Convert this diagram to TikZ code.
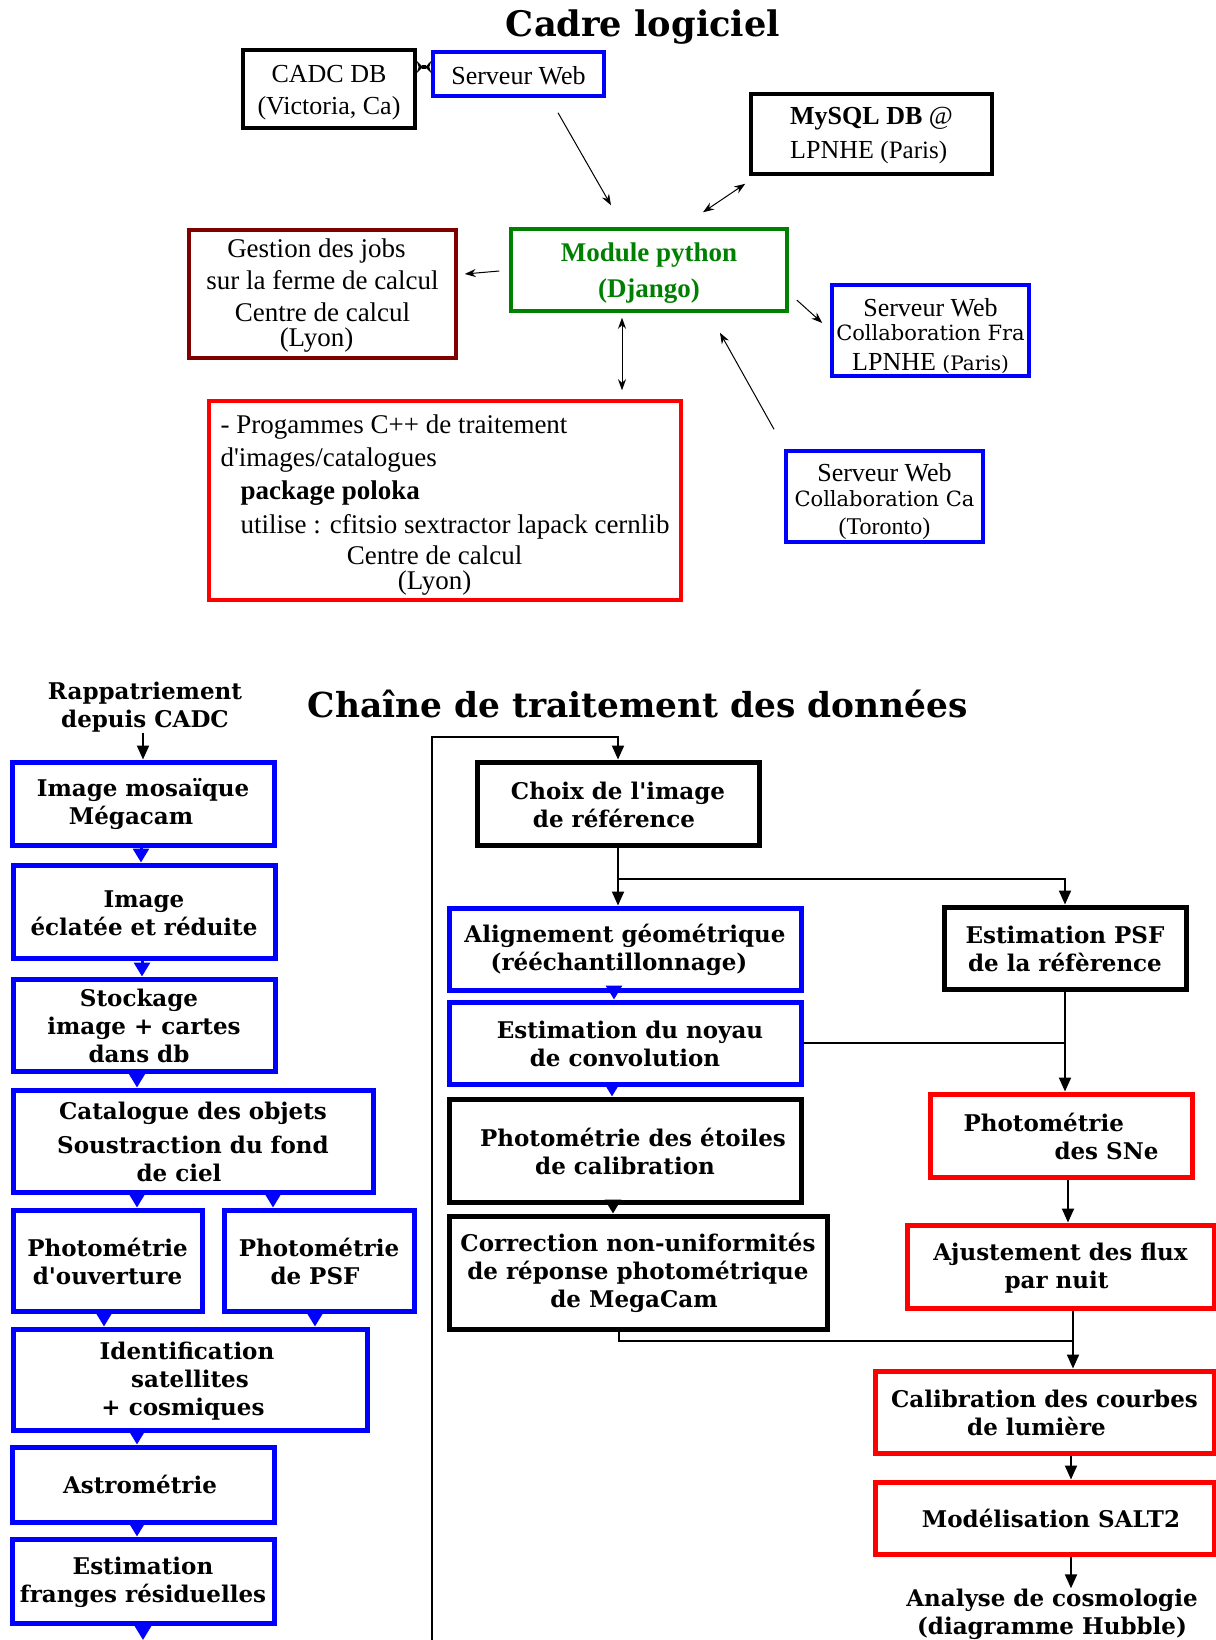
\documentclass[tikz,border=0pt]{standalone}
\usepackage{fontspec}
\setmainfont{Liberation Serif}[Ligatures=TeXOff]
\newfontfamily\dvs{DejaVu Serif}[Ligatures=TeXOff]
\usetikzlibrary{arrows.meta,calc}
\definecolor{mygreen}{RGB}{0,128,0}
\definecolor{mydarkred}{RGB}{128,0,0}
\tikzset{
  tb/.style={draw, line width=1.75pt, inner sep=0pt, align=center, font=\fontsize{13}{16}\selectfont},
  bb/.style={draw=blue, line width=2.5pt, inner sep=0pt, align=center, font=\dvs\bfseries\fontsize{11.5}{14}\selectfont},
  kb/.style={bb, draw=black},
  rb/.style={bb, draw=red},
  btxt/.style={inner sep=0pt, align=center, font=\dvs\bfseries\fontsize{11.5}{14}\selectfont},
  thinarr/.style={line width=0.5pt, -{Stealth[length=5.5pt,width=4pt]}},
  thinboth/.style={line width=0.5pt, {Stealth[length=5.5pt,width=4pt]}-{Stealth[length=5.5pt,width=4pt]}},
  flow/.style={line width=1pt, -{Triangle[length=7pt,width=6pt]}},
  flowline/.style={line width=1pt},
  btri/.style={draw=blue, line width=1.5pt, -{Triangle[length=7pt,width=8pt]}},
  ktri/.style={btri, draw=black},
}
\begin{document}
\begin{tikzpicture}[x=0.5pt,y=-0.5pt]
\useasboundingbox[fill=white] (0,0) rectangle (1216,1640);

% ---------------- Cadre logiciel ----------------
\node[inner sep=0pt, font=\dvs\bfseries\fontsize{17.6}{20}\selectfont] (t1) at (643,27) {Cadre logiciel};

\node[tb, minimum width=86pt, minimum height=39pt] (cadc) at (329,89) {\rule{0pt}{12.5pt}CADC DB\\(Victoria, Ca)};
\node[tb, draw=blue, minimum width=85.5pt, minimum height=22pt] (sw1) at (518.5,74) {\rule{0pt}{10.5pt}Serveur Web};
\node[tb, align=left, minimum width=120.5pt, minimum height=40pt] (mysql) at (871.5,134)
  {\rule{0pt}{10pt}\textbf{MySQL DB} @\\[1pt]LPNHE {\fontsize{12.5}{16}\selectfont(Paris)}};
\node[tb, draw=mygreen, text=mygreen, minimum width=138pt, minimum height=41pt,
      font=\bfseries\fontsize{13.5}{18}\selectfont] (mod) at (649,270) {\rule{0pt}{12pt}Module python\\(Django)};
\node[tb, draw=mydarkred, minimum width=133.5pt, minimum height=64pt,
      font=\fontsize{13.5}{16}\selectfont] (gest) at (322.5,294)
  {\rule{0pt}{11pt}Gestion des jobs\hspace*{6pt}\\sur la ferme de calcul\hspace*{6pt}\\Centre de calcul\hspace*{6pt}\\[-3.5pt](Lyon)\hspace*{6pt}};
\node[tb, draw=blue, minimum width=98.5pt, minimum height=45.5pt,
      font=\fontsize{13}{12}\selectfont] (fra) at (930.5,330.5)
  {\rule{0pt}{15pt}Serveur Web\\{\dvs\fontsize{10.5}{12}\selectfont Collaboration Fra}\\[3pt]LPNHE {\dvs\fontsize{10}{12}\selectfont(Paris)}};
\node[tb, draw=red, align=left, minimum width=236pt, minimum height=99.5pt,
      font=\fontsize{13.5}{16.7}\selectfont] (prog) at (445,500.5)
  {\rule{0pt}{13.5pt}- Progammes C++ de traitement\\d'images/catalogues\\\hspace*{10pt}\textbf{package poloka}\\\hspace*{10pt}utilise : cfitsio sextractor lapack cernlib\\[-1pt]\makebox[214pt][c]{Centre de calcul}\\[-4.5pt]\makebox[214pt][c]{(Lyon)}};
\node[tb, draw=blue, minimum width=98.5pt, minimum height=45.5pt,
      font=\fontsize{13}{12.5}\selectfont] (tor) at (884.5,496.5)
  {\rule{0pt}{14pt}Serveur Web\\{\dvs\fontsize{10.5}{12.5}\selectfont Collaboration Ca}\\[1.5pt]{\fontsize{12}{14}\selectfont(Toronto)}};

% top connectors
\draw[line width=2pt, {Stealth[length=3pt,width=6pt,reversed]}-{Stealth[length=3pt,width=6pt,reversed]}]
  ($(cadc.east)+(0,-22)$) -- ($(sw1.west)+(0,-7)$);
\draw[thinarr] ($(sw1.south)+(39.5,15)$) -- ($(mod.north)+(-38,-22)$);
\draw[thinboth] ($(mysql.south west)+(-4,8)$) -- ($(mod.north)+(54,-15)$);
\draw[thinarr] ($(mod.west)+(-10,1)$) -- ($(gest.east)+(7,-20)$);
\draw[thinarr] ($(mod.east)+(8,30)$) -- ($(fra.west)+(-8,-7.5)$);
\draw[thinboth] ($(mod.south)+(-27,5)$) -- ($(prog.north)+(177,-9)$);
\draw[thinarr] ($(tor.north)+(-110.5,-20)$) -- ($(mod.south)+(71,20)$);

% ---------------- Chaine de traitement ----------------
\node[inner sep=0pt, font=\dvs\bfseries\fontsize{17.2}{20}\selectfont] (t2) at (638,704) {Chaîne de traitement des données};
\node[btxt] (rapp) at (145,707) {Rappatriement\\depuis CADC};

% left column
\node[bb, minimum width=131pt, minimum height=41.5pt] (b1) at (143,803.5) {\rule{0pt}{10pt}Image mosaïque\\Mégacam\hspace*{12pt}};
\node[bb, minimum width=131pt, minimum height=46.5pt] (b2) at (144,911.5) {\rule{0pt}{10pt}Image\\éclatée et réduite};
\node[bb, minimum width=131pt, minimum height=46pt] (b3) at (144,1025) {\rule{0pt}{10pt}Stockage\hspace*{5pt}\\image + cartes\\dans db\hspace*{5pt}};
\node[bb, minimum width=180pt, minimum height=51pt] (b4) at (193,1141) {\rule{0pt}{10pt}Catalogue des objets\\[3pt]Soustraction du fond\\de ciel\hspace*{14pt}};
\node[bb, minimum width=94.5pt, minimum height=50.5pt] (b5) at (107.5,1260.5) {\rule{0pt}{10pt}Photométrie\\d'ouverture};
\node[bb, minimum width=95pt, minimum height=50.5pt] (b6) at (319,1260.5) {\rule{0pt}{10pt}Photométrie\\de PSF\hspace*{4pt}};
\node[bb, minimum width=177pt, minimum height=50.5pt] (b7) at (190,1379.5) {\rule{0pt}{10pt}Identification\hspace*{3pt}\\satellites\\+ cosmiques\hspace*{7pt}};
\node[bb, minimum width=131pt, minimum height=37.5pt] (b8) at (143,1484.5) {Astrométrie\hspace*{3pt}};
\node[bb, minimum width=131pt, minimum height=42pt] (b9) at (143,1581) {\rule{0pt}{10pt}Estimation\\franges résiduelles};

% right column
\node[kb, minimum width=141pt, minimum height=41.5pt] (choix) at (618,803.5) {\rule{0pt}{10pt}Choix de l'image\\de référence\hspace*{4pt}};
\node[bb, minimum width=176pt, minimum height=41pt] (align) at (625,949) {\rule{0pt}{10pt}Alignement géométrique\\(rééchantillonnage)\hspace*{6pt}};
\node[bb, minimum width=176pt, minimum height=41pt] (noyau) at (625,1043) {\rule{0pt}{10pt}\hspace*{5pt}Estimation du noyau\\de convolution};
\node[kb, minimum width=176pt, minimum height=51.5pt] (etoiles) at (625,1150.5) {\rule{0pt}{10pt}\hspace*{8pt}Photométrie des étoiles\\de calibration};
\node[kb, minimum width=189pt, minimum height=56.5pt] (corr) at (638,1272.5) {\rule{0pt}{10pt}Correction non-uniformités\\de réponse photométrique\hspace*{4pt}\\de MegaCam\hspace*{4pt}};
\node[kb, minimum width=121pt, minimum height=41pt] (psfref) at (1065,948) {\rule{0pt}{10pt}Estimation PSF\\de la réfèrence};
\node[rb, align=left, minimum width=131pt, minimum height=41.5pt] (sne) at (1061,1135.5) {\rule{0pt}{10pt}Photométrie\\\hspace*{45.5pt}des SNe};
\node[rb, minimum width=153.5pt, minimum height=41.5pt] (ajust) at (1060.5,1266.5) {\rule{0pt}{10pt}Ajustement des flux\\par nuit\hspace*{4pt}};
\node[rb, minimum width=169.5pt, minimum height=41pt] (calib) at (1044.5,1412) {\rule{0pt}{10pt}Calibration des courbes\\de lumière\hspace*{8pt}};
\node[rb, minimum width=169.5pt, minimum height=36pt] (salt) at (1044.5,1518) {\hspace*{6.5pt}Modélisation SALT2};
\node[btxt] (analyse) at (1052,1614) {Analyse de cosmologie\\(diagramme Hubble)};

% guide coordinates
\coordinate (gx104) at (104,0);
\coordinate (gx137) at (137,0);
\coordinate (gx141) at (141,0);
\coordinate (gx142) at (142,0);
\coordinate (gx273) at (273,0);
\coordinate (gx315) at (315,0);
\coordinate (gx612) at (612,0);
\coordinate (gx613) at (613,0);
\coordinate (gx614) at (614,0);
\coordinate (gx619) at (619,0);
\coordinate (gx1068) at (1068,0);
\coordinate (gx1071) at (1071,0);
\coordinate (gx1073) at (1073,0);
\coordinate (jy) at (0,1341);
\coordinate (b9end) at (143,1640);
\coordinate (fb0) at (432,1640);
\coordinate (fb1) at (432,737);

% left chain
\draw[flow] (rapp.south -| b1.north) -- (b1.north);
\draw[btri] (b1.south -| gx141) -- (b2.north -| gx141);
\draw[btri] (b2.south -| gx142) -- (b3.north -| gx142);
\draw[btri] (b3.south -| gx137) -- (b4.north -| gx137);
\draw[btri] (b4.south -| gx137) -- (b5.north -| gx137);
\draw[btri] (b4.south -| gx273) -- (b6.north -| gx273);
\draw[btri] (b5.south -| gx104) -- (b7.north -| gx104);
\draw[btri] (b6.south -| gx315) -- (b7.north -| gx315);
\draw[btri] (b7.south -| gx137) -- (b8.north -| gx137);
\draw[btri] (b8.south -| gx137) -- (b9.north -| gx137);
\draw[btri] (b9.south) -- (b9end);

% feedback line
\draw[flow] (fb0) -- (fb1) -| (choix.north);

% right chain
\draw[flow] (choix.south) -- (choix.south |- align.north);
\coordinate (br) at ($(choix.south)+(0,31)$);
\draw[flow] (br) -| (psfref.north);
\draw[btri] (align.south -| gx614) -- (noyau.north -| gx614);
\draw[btri] (noyau.south -| gx612) -- (etoiles.north -| gx612);
\draw[ktri] (etoiles.south -| gx613) -- (corr.north -| gx613);
\draw[flow] (psfref.south) -- (psfref.south |- sne.north);
\draw[flowline] (noyau.east) -- (noyau.east -| psfref.south);
\draw[flow] (sne.south -| gx1068) -- (ajust.north -| gx1068);
\draw[flow] (ajust.south -| gx1073) -- (calib.north -| gx1073);
\draw[flowline] (corr.south -| gx619) -- (gx619 |- jy) -- (gx1073 |- jy);
\draw[flow] (calib.south -| gx1071) -- (salt.north -| gx1071);
\draw[flow] (salt.south -| gx1071) -- (analyse.north -| gx1071);
\end{tikzpicture}
\end{document}
